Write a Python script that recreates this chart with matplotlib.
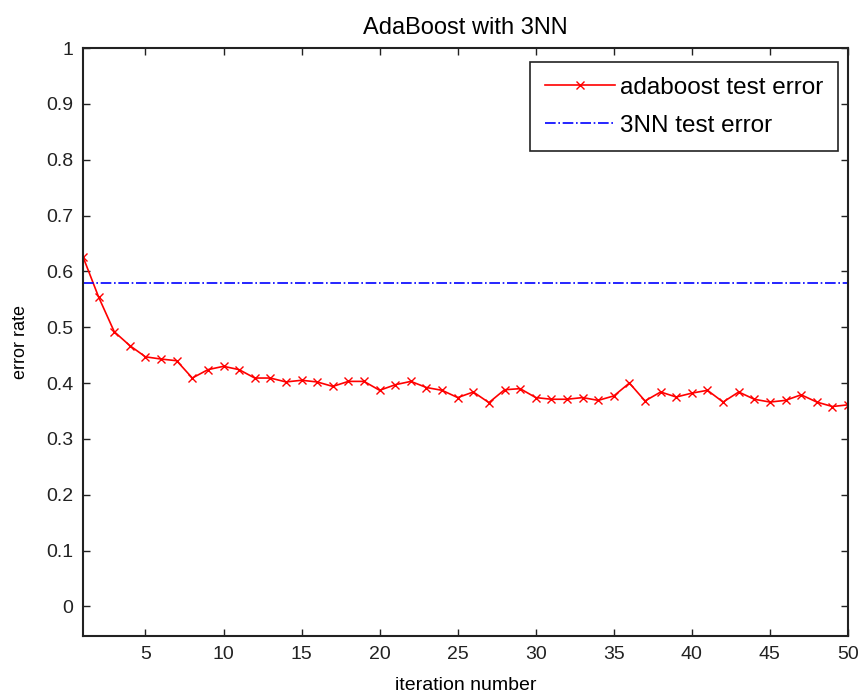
import numpy as np
import matplotlib.pyplot as plt

plt.rcParams['font.family'] = ['Liberation Sans', 'DejaVu Sans']

iterations = np.arange(1, 51)
ada_error = [0.626, 0.554, 0.492, 0.467, 0.447, 0.443, 0.440, 0.409, 0.424, 0.430,
             0.424, 0.409, 0.409, 0.402, 0.405, 0.402, 0.394, 0.403, 0.403, 0.387,
             0.397, 0.403, 0.392, 0.387, 0.374, 0.384, 0.365, 0.388, 0.390, 0.374,
             0.371, 0.371, 0.374, 0.369, 0.377, 0.400, 0.368, 0.384, 0.375, 0.382,
             0.387, 0.366, 0.384, 0.371, 0.366, 0.369, 0.379, 0.366, 0.358, 0.361]
knn_error = 0.58

fig = plt.figure(figsize=(8.63, 6.92), dpi=100)
ax = fig.add_axes([0.0962, 0.0809, 0.8864, 0.8497])

ax.plot(iterations, ada_error, color='red', marker='x', markersize=6, lw=1.2,
        label='adaboost test error')
ax.axhline(knn_error, color='blue', ls='-.', lw=1.2, label='3NN test error')

ax.set_xlim(1, 50)
ax.set_ylim(-0.053, 1)
ax.set_xticks(np.arange(5, 51, 5))
yt = np.round(np.arange(0, 1.01, 0.1), 1)
ax.set_yticks(yt)
ax.set_yticklabels(['0' if v == 0 else ('1' if v == 1 else f'{v:g}') for v in yt])
ax.tick_params(direction='in', top=True, right=True, labelsize=14, length=5,
               width=1, pad=7, colors='#222222', labelcolor='#222222')
for s in ax.spines.values():
    s.set_linewidth(1.5)
    s.set_color('#222222')

ax.set_title('AdaBoost with 3NN', fontsize=17, pad=10)
ax.set_xlabel('iteration number', fontsize=14, labelpad=10)
ax.set_ylabel('error rate', fontsize=13, labelpad=12)

leg = ax.legend(loc='upper right', bbox_to_anchor=(0.987, 0.976), borderaxespad=0,
                fontsize=17.5, numpoints=1, fancybox=False, edgecolor='#222222',
                framealpha=1, handlelength=2.9, handletextpad=0.2,
                borderpad=0.6, labelspacing=0.65)
leg.get_frame().set_linewidth(1.2)

fig.savefig('out.png', dpi=100)
